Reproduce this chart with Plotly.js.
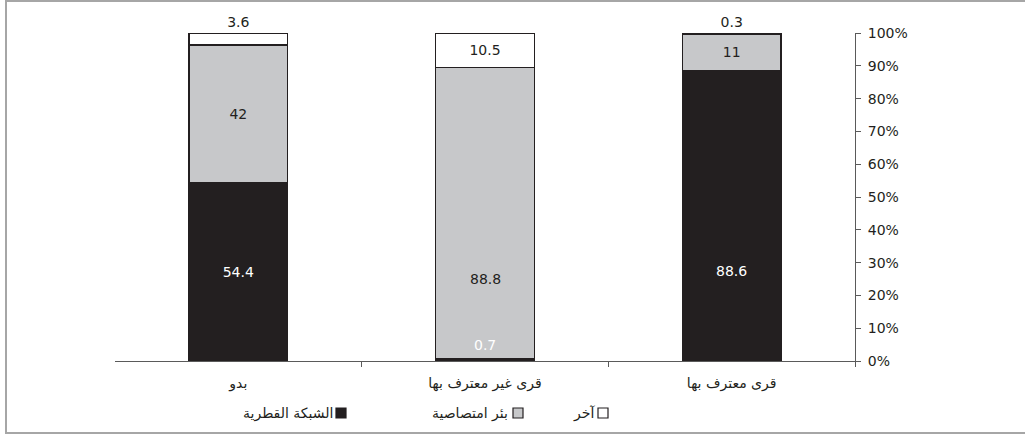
<!DOCTYPE html>
<html>
<head>
<meta charset="utf-8">
<script src="https://cdn.plot.ly/plotly-3.0.1.min.js"></script>
<style>
  html, body { margin: 0; padding: 0; background: #fff; }
  #chart { width: 1025px; height: 435px; }
</style>
</head>
<body>
<div id="chart"></div>
<script>
// ---- data ----
const categories = ['قرى معترف بها', 'قرى غير معترف بها', 'بدو'];
const seriesNames = ['الشبكة القطرية', 'بئر امتصاصية', 'آخر'];
const nationalGrid = [88.6, 0.7, 54.4];   // الشبكة القطرية
const cesspit = [11, 88.8, 42];            // بئر امتصاصية
const other = [0.3, 10.5, 3.6];            // آخر

// ---- styles ----
const DARK = '#231f20';
const GREY = '#c7c8ca';
const AXIS = '#5a5a5a';
const NUMFONT = 'DejaVu Sans, sans-serif';
const ARFONT = 'DejaVu Sans, Noto Sans, sans-serif';
const NUMSIZE = 14;

// labels that sit away from the segment middle (y in % units)
const movedLabels = [
  {series: 0, idx: 0, y: 27.5, color: '#ffffff'},
  {series: 0, idx: 1, y: 4.8, color: '#ffffff'},
  {series: 1, idx: 1, y: 25, color: DARK}
];
const allSeries = [nationalGrid, cesspit, other];
function textFor(s) {
  return allSeries[s].map((v, i) =>
    movedLabels.some(m => m.series === s && m.idx === i) ? '' : String(v));
}

const common = {
  type: 'bar',
  x: categories,
  textangle: 0,
  constraintext: 'none',
  cliponaxis: false,
  hoverinfo: 'skip',
  showlegend: false
};

const traces = [
  Object.assign({}, common, {
    name: seriesNames[0], y: nationalGrid, text: textFor(0),
    marker: {color: DARK, line: {color: DARK, width: 1.5}},
    textposition: 'inside', insidetextanchor: 'middle',
    textfont: {family: NUMFONT, size: NUMSIZE, color: '#ffffff'}
  }),
  Object.assign({}, common, {
    name: seriesNames[1], y: cesspit, text: textFor(1),
    marker: {color: GREY, line: {color: DARK, width: 1.5}},
    textposition: 'inside', insidetextanchor: 'middle',
    textfont: {family: NUMFONT, size: NUMSIZE, color: DARK}
  }),
  Object.assign({}, common, {
    name: seriesNames[2], y: other, text: textFor(2),
    marker: {color: '#ffffff', line: {color: DARK, width: 1.5}},
    textposition: ['outside', 'inside', 'outside'], insidetextanchor: 'middle',
    textfont: {family: NUMFONT, size: NUMSIZE, color: DARK},
    outsidetextfont: {family: NUMFONT, size: NUMSIZE, color: DARK}
  })
];

const annotations = movedLabels.map(m => ({
  x: categories[m.idx], y: m.y, xref: 'x', yref: 'y',
  text: String(allSeries[m.series][m.idx]),
  showarrow: false,
  font: {family: NUMFONT, size: NUMSIZE, color: m.color}
}));

// legend (right-to-left: swatch on the right of text)
const legendItems = [
  {name: seriesNames[0], fill: DARK, cx: 341, gap: 6},
  {name: seriesNames[1], fill: GREY, cx: 518, gap: 8},
  {name: seriesNames[2], fill: '#ffffff', cx: 603, gap: 6}
];
const L = 115, R = 855, T = 33, B = 361, W = R - L, H = B - T;
const px2x = px => (px - L) / W;
const px2y = py => (B - py) / H;
const shapes = [
  {type: 'rect', xref: 'paper', yref: 'paper',
   x0: px2x(6), x1: px2x(1030), y0: px2y(433), y1: px2y(1),
   line: {color: '#a6a6a6', width: 2}, fillcolor: 'rgba(0,0,0,0)', layer: 'below'}
];
const legendY = 413;
legendItems.forEach(it => {
  shapes.push({type: 'rect', xref: 'paper', yref: 'paper',
    x0: px2x(it.cx - 5), x1: px2x(it.cx + 5), y0: px2y(legendY + 5), y1: px2y(legendY - 5),
    line: {color: DARK, width: 1.2}, fillcolor: it.fill});
  annotations.push({xref: 'paper', yref: 'paper', x: px2x(it.cx - it.gap), y: px2y(legendY),
    xanchor: 'right', yanchor: 'middle', text: it.name, showarrow: false,
    font: {family: ARFONT, size: 14, color: DARK}});
});

const layout = {
  width: 1025, height: 435,
  margin: {l: L, r: 1025 - R, t: T, b: 435 - B, pad: 0},
  paper_bgcolor: '#ffffff', plot_bgcolor: '#ffffff',
  barmode: 'stack', bargap: 0.6,
  showlegend: false,
  xaxis: {
    autorange: 'reversed',
    showline: true, linecolor: AXIS, linewidth: 1,
    ticks: 'outside', tickson: 'boundaries', ticklen: 5, tickcolor: AXIS, tickwidth: 1,
    tickangle: 0,
    ticklabelstandoff: 9,
    tickfont: {family: ARFONT, size: 14, color: DARK},
    showgrid: false, zeroline: false, fixedrange: true
  },
  yaxis: {
    side: 'right', range: [0, 100], dtick: 10, ticksuffix: '%',
    showline: true, linecolor: AXIS, linewidth: 1,
    ticks: 'outside', ticklen: 5, tickcolor: AXIS, tickwidth: 1,
    ticklabelstandoff: 4,
    tickfont: {family: NUMFONT, size: NUMSIZE, color: DARK},
    showgrid: false, zeroline: false, fixedrange: true
  },
  shapes: shapes,
  annotations: annotations
};

Plotly.newPlot('chart', traces, layout, {staticPlot: true, displayModeBar: false});
</script>
</body>
</html>
